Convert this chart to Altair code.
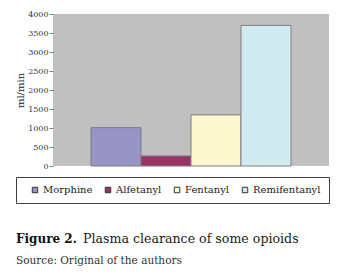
import altair as alt
import pandas as pd

drugs = ["Morphine", "Alfetanyl", "Fentanyl", "Remifentanyl"]
clearance = [1010, 265, 1345, 3700]
colors = ["#9894C6", "#993366", "#FBF8D0", "#D2EBF1"]
y_ticks = [0, 500, 1000, 1500, 2000, 2500, 3000, 3500, 4000]
y_title = "ml/min"
caption_bold = ["Figure 2."]
caption_text = ["Plasma clearance of some opioids"]
source_text = ["Source: Original of the authors"]

SERIF = "DejaVu Serif"

df = pd.DataFrame({"drug": drugs, "value": clearance})

bars = alt.Chart(df).mark_bar(stroke="#7f7f7f", strokeWidth=1).encode(
    x=alt.X("drug:N", sort=drugs,
            scale=alt.Scale(paddingInner=0, paddingOuter=0.76), axis=None),
    y=alt.Y("value:Q", scale=alt.Scale(domain=[0, 4000], nice=False),
            axis=alt.Axis(values=y_ticks, title=y_title, format="d")),
    color=alt.Color("drug:N", sort=drugs,
                    scale=alt.Scale(domain=drugs, range=colors),
                    legend=alt.Legend(orient="none", legendX=-37, legendY=163,
                                      direction="horizontal", title=None)),
)

cap1 = alt.Chart(pd.DataFrame({"t": caption_bold})).mark_text(
    align="left", baseline="alphabetic", font=SERIF, fontSize=12,
    fontWeight="bold", color="#111").encode(
    x=alt.value(-37), y=alt.value(229), text="t:N")

cap2 = alt.Chart(pd.DataFrame({"t": caption_text})).mark_text(
    align="left", baseline="alphabetic", font=SERIF, fontSize=12.6,
    color="#222").encode(
    x=alt.value(30), y=alt.value(229), text="t:N")

src = alt.Chart(pd.DataFrame({"t": source_text})).mark_text(
    align="left", baseline="alphabetic", font=SERIF, fontSize=10.5,
    color="#333").encode(
    x=alt.value(-37), y=alt.value(250), text="t:N")

chart = alt.layer(bars, cap1, cap2, src).properties(
    width=276, height=152,
    autosize=alt.AutoSizeParams(type="none"),
    padding={"left": 45, "top": 6, "right": 13, "bottom": 100},
    background="white",
).configure(font=SERIF).configure_view(
    fill="#C0C0C0", strokeWidth=0
).configure_axis(
    grid=False, domain=False, tickColor="#808080", tickSize=4,
    labelFont=SERIF, labelFontSize=8, labelColor="#333", labelPadding=1,
    titleFont=SERIF, titleFontSize=10, titleFontWeight="normal",
    titleColor="#222", titlePadding=2,
).configure_legend(
    strokeColor="#404040", padding=8,
    symbolType="square", symbolSize=30,
    symbolStrokeColor="#333", symbolStrokeWidth=1, symbolOffset=6,
    labelFont=SERIF, labelFontSize=10, labelColor="#222", labelOffset=3,
    columnPadding=4, labelLimit=200,
)

chart.save("out.html", embed_options={"renderer": "svg", "actions": False})
